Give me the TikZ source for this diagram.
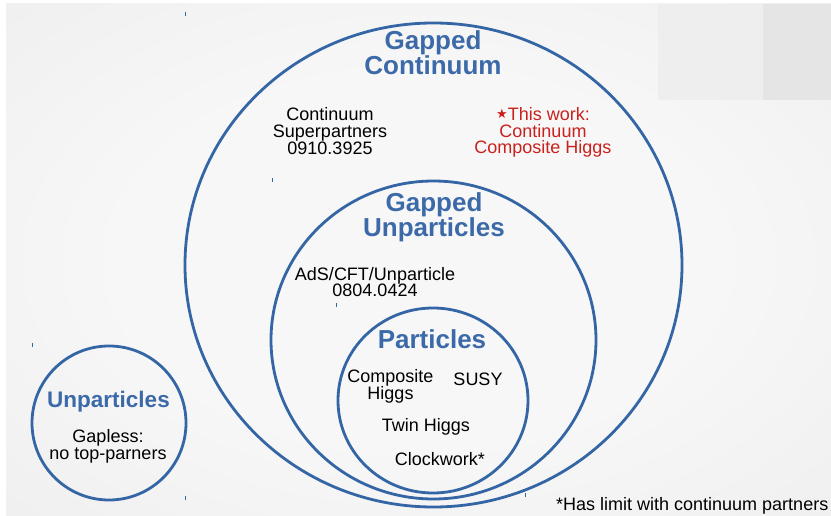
\documentclass[tikz,border=0pt]{standalone}
\usepackage{fontspec}
\setmainfont{Liberation Sans}
\newfontfamily\symfont{DejaVu Sans}
\usepackage{tikz}
\usetikzlibrary{shapes.geometric}
\usepackage{xcolor}
\definecolor{Ring}{HTML}{3465A4}
\definecolor{TitleBlue}{HTML}{3C6AA9}
\definecolor{WorkRed}{HTML}{C9211E}
\definecolor{BgIn}{HTML}{F7F7F7}
\definecolor{BgOut}{HTML}{E1E1E1}
\definecolor{PatchA}{HTML}{EEEEEE}
\definecolor{PatchB}{HTML}{E5E5E5}
\pgfdeclareradialshading{slidebg}{\pgfpoint{0bp}{0bp}}{color(0bp)=(BgIn); color(18bp)=(BgIn); color(71bp)=(BgOut)}
\tikzset{
  ring/.style={ellipse, draw=Ring, line width=2.8pt, inner sep=0pt},
  ringtitle/.style={align=center, text=TitleBlue, inner sep=0pt, anchor=base, font=\fontsize{26}{23}\selectfont\bfseries},
  entry/.style={align=center, inner sep=0pt, anchor=base, font=\fontsize{18}{16.8}\selectfont},
  handle/.style={draw=Ring, line width=0.8pt}
}

\begin{document}
\begin{tikzpicture}[x=1pt, y=-1pt]
\useasboundingbox (0,0) rectangle (831,516);
\fill[white] (0,0) rectangle (831,516);
\shade[shading=slidebg] (6,4) rectangle (831,516);
\fill[PatchA] (658,4) rectangle (763,100);
\fill[PatchB] (763,4) rectangle (831,100);
\foreach \x/\y in {185/14, 272/180, 336/305, 32/345, 185/498, 525/495} \draw[handle] (\x,\y-2) -- (\x,\y+2);

\node[ring, minimum width=497pt, minimum height=484pt] (cont) at (433.5,265) {};
\node[ring, minimum width=325pt, minimum height=318pt] (gun) at (433.5,340) {};
\node[ring, minimum width=190pt, minimum height=185pt] (part) at (433,400.5) {};
\node[ring, minimum width=154pt, minimum height=154pt] (unp) at (109,423) {};

\node[ringtitle] (tcont) at (433,75) {Gapped\\Continuum};
\node[ringtitle] (tgun) at (434,236.3) {Gapped\\Unparticles};
\node[ringtitle] (tpart) at (432,348.3) {Particles};
\node[ringtitle, font=\fontsize{22.5}{22.5}\selectfont\bfseries] (tunp) at (108.5,407.7) {Unparticles};

\node[entry] (superp) at (330,154.3) {Continuum\\Superpartners\\0910.3925};
\node[entry, text=WorkRed] (thiswork) at (543,154) {\raisebox{2pt}{\fontsize{13}{13}\symfont ★}This work:\\Continuum\\Composite Higgs};
\node[entry] (adscft) at (375,297) {AdS/CFT/Unparticle\\0804.0424};
\node[entry] (comphiggs) at (390.5,399.3) {Composite\\Higgs};
\node[entry] (susy) at (478,385) {SUSY};
\node[entry] (twin) at (426,431.7) {Twin Higgs};
\node[entry] (clock) at (440,465) {Clockwork*};
\node[entry] (gapless) at (108,459.3) {Gapless:\\no top-parners};
\node[entry, anchor=base west] (note) at (556,510) {*Has limit with continuum partners};
\end{tikzpicture}
\end{document}
